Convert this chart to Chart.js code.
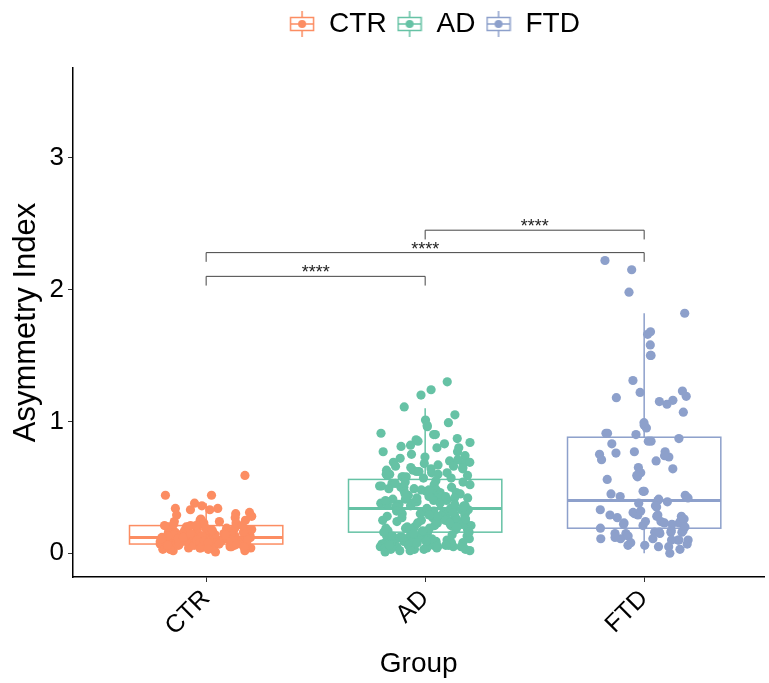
<!DOCTYPE html>
<html>
<head>
<meta charset="utf-8">
<script src="https://cdn.jsdelivr.net/npm/chart.js@4.4.1/dist/chart.umd.min.js"></script>
<style>
  html, body { margin: 0; padding: 0; background: #fff; }
  #wrap { width: 769px; height: 683px; }
</style>
</head>
<body>
<div id="wrap"><canvas id="myChart" width="769" height="683"></canvas></div>
<script>
const categories = ["CTR", "AD", "FTD"];
const colors = ["#FC8D62", "#66C2A5", "#8DA0CB"];

// values (jittered points)
const ctrValues = [0.59, 0.44, 0.44, 0.38, 0.36, 0.34, 0.34, 0.33, 0.33, 0.31, 0.30, 0.29, 0.28, 0.27, 0.26, 0.25, 0.25, 0.24,
  0.12, 0.05, 0.18, 0.09, 0.14, 0.03, 0.21, 0.11, 0.07, 0.16, 0.10, 0.04, 0.13, 0.19, 0.08, 0.06, 0.15, 0.12, 0.02, 0.22,
  0.10, 0.09, 0.17, 0.05, 0.13, 0.11, 0.07, 0.20, 0.14, 0.08, 0.03, 0.16, 0.12, 0.10, 0.06, 0.18, 0.09, 0.23, 0.11, 0.04,
  0.15, 0.13, 0.07, 0.19, 0.08, 0.12, 0.05, 0.14, 0.10, 0.21, 0.09, 0.06, 0.17, 0.11, 0.03, 0.13, 0.08, 0.24, 0.15, 0.10,
  0.07, 0.12, 0.04, 0.16, 0.09, 0.20, 0.11, 0.06, 0.14, 0.08, 0.18, 0.13, 0.02, 0.10, 0.12, 0.07, 0.15, 0.05, 0.22, 0.09,
  0.11, 0.17, 0.08, 0.13, 0.06, 0.19, 0.10, 0.14, 0.04, 0.12, 0.16, 0.09, 0.07, 0.21, 0.11, 0.05, 0.13, 0.08, 0.15, 0.10,
  0.18, 0.12, 0.06, 0.14, 0.03, 0.09, 0.11, 0.20, 0.07, 0.16, 0.13, 0.08, 0.10, 0.05, 0.12, 0.17, 0.09, 0.14, 0.06, 0.23,
  0.11, 0.04, 0.15, 0.10, 0.08, 0.13, 0.19, 0.07, 0.12, 0.01, 0.09, 0.16, 0.11, 0.06, 0.14, 0.08, 0.21, 0.10, 0.03, 0.12,
  0.15, 0.05];
const adValues = [1.30, 1.24, 1.20, 1.11, 1.05, 0.99, 1.01, 0.96, 0.97, 0.91, 0.90, 0.90, 0.86, 0.87, 0.82, 0.85, 0.81,
  0.84, 0.83, 0.80, 0.77, 0.77, 0.80, 0.74, 0.72, 0.70, 0.69, 0.68, 0.66, 0.65, 0.64, 0.63, 0.62, 0.61, 0.60, 0.60, 0.59,
  0.58, 0.58, 0.57, 0.71, 0.67, 0.63, 0.73, 0.66, 0.61, 0.59, 0.62, 0.69, 0.64, 0.57, 0.75, 0.68, 0.60, 0.65, 0.58,
  0.14, 0.55, 0.32, 0.14, 0.54, 0.31, 0.13, 0.53, 0.31, 0.13, 0.52, 0.30, 0.12, 0.52, 0.30, 0.12, 0.51, 0.29, 0.12, 0.50,
  0.29, 0.11, 0.50, 0.28, 0.11, 0.49, 0.28, 0.10, 0.48, 0.27, 0.10, 0.48, 0.27, 0.10, 0.47, 0.26, 0.09, 0.46, 0.26, 0.09,
  0.46, 0.25, 0.09, 0.45, 0.25, 0.08, 0.45, 0.24, 0.08, 0.44, 0.24, 0.08, 0.43, 0.23, 0.07, 0.43, 0.23, 0.07, 0.42, 0.22,
  0.07, 0.42, 0.22, 0.06, 0.41, 0.21, 0.06, 0.40, 0.21, 0.06, 0.40, 0.20, 0.05, 0.39, 0.20, 0.05, 0.39, 0.19, 0.05, 0.38,
  0.19, 0.04, 0.38, 0.18, 0.04, 0.37, 0.18, 0.04, 0.37, 0.17, 0.03, 0.36, 0.17, 0.03, 0.36, 0.16, 0.02, 0.35, 0.16, 0.02,
  0.35, 0.15, 0.01, 0.34, 0.15, 0.13, 0.34, 0.32, 0.11, 0.33, 0.29, 0.09, 0.33, 0.26, 0.07, 0.53, 0.23, 0.05, 0.49, 0.20,
  0.03, 0.44, 0.17, 0.12, 0.41, 0.30, 0.10, 0.38, 0.27, 0.08, 0.47, 0.24, 0.06, 0.51, 0.21, 0.04, 0.36, 0.18, 0.14, 0.43,
  0.31, 0.11, 0.39, 0.28, 0.09, 0.54, 0.25, 0.07, 0.45, 0.22, 0.05, 0.35, 0.19, 0.03, 0.40, 0.16, 0.12, 0.48, 0.29, 0.08,
  0.42, 0.26, 0.06, 0.37, 0.23, 0.02, 0.50, 0.20];
const ftdValues = [2.22, 2.15, 1.98, 1.82, 1.66, 1.68, 1.58, 1.50, 1.50, 1.31, 1.23, 1.16, 1.18, 1.13, 1.15, 1.19, 1.22,
  1.07, 0.97, 0.95, 0.99, 0.91, 0.91, 0.90, 0.87, 0.85, 0.83, 0.85, 0.73, 0.75, 0.70, 0.71, 0.77, 0.76, 0.77, 0.74, 0.64,
  0.61, 0.65, 0.58, 0.59, 0.56, 0.47, 0.47, 0.44, 0.43, 0.42, 0.40, 0.39, 0.35, 0.30, 0.29, 0.29, 0.31, 0.29, 0.28, 0.28,
  0.27, 0.25, 0.24, 0.23, 0.21, 0.23, 0.22, 0.24, 0.24, 0.22, 0.23, 0.16, 0.16, 0.15, 0.17, 0.16, 0.15, 0.17, 0.16, 0.15,
  0.11, 0.10, 0.11, 0.10, 0.12, 0.11, 0.10, 0.10, 0.06, 0.05, 0.07, 0.06, 0.05, 0.00, 0.45, 0.41, 0.38, 0.36, 0.33, 0.32,
  0.26, 0.20, 0.19, 0.13, 0.08, 0.03];
const groupValues = [ctrValues, adValues, ftdValues];

// box plot stats
const boxLow = [0.01, 0.00, 0.00];
const boxQ1 = [0.07, 0.16, 0.19];
const boxMedian = [0.12, 0.34, 0.40];
const boxQ3 = [0.21, 0.56, 0.88];
const boxHigh = [0.38, 1.10, 1.82];

const yTicks = [0, 1, 2, 3];

// significance brackets: from group, to group, height, label
const compFrom = [0, 0, 1];
const compTo = [1, 2, 2];
const compY = [2.10, 2.28, 2.45];
const compLabel = ["****", "****", "****"];

const FONT = "'Liberation Sans', Arial, Helvetica, sans-serif";
const BOX_HALF = 0.35;

// fixed spread of points around the category centre (hash of index, no randomness)
function jitter(i, k) {
  var h = Math.sin((i + 1) * 12.9898 + k * 78.233) * 43758.5453;
  var f = h - Math.floor(h);
  return (f - 0.5) * 0.42;
}

function legendIcon(color) {
  var c = document.createElement("canvas");
  c.width = 26;
  c.height = 26;
  var g = c.getContext("2d");
  g.strokeStyle = color;
  g.lineWidth = 1.5;
  g.beginPath();
  g.moveTo(13, 0);
  g.lineTo(13, 6);
  g.moveTo(13, 20);
  g.lineTo(13, 26);
  g.stroke();
  g.strokeRect(1.5, 6.5, 23, 13);
  g.beginPath();
  g.moveTo(1.5, 13);
  g.lineTo(24.5, 13);
  g.stroke();
  g.fillStyle = color;
  g.beginPath();
  g.arc(13, 13, 4, 0, Math.PI * 2);
  g.fill();
  return c;
}
const icons = colors.map(legendIcon);

const boxPlugin = {
  id: "boxes",
  beforeDatasetsDraw(chart) {
    const ctx = chart.ctx;
    const xs = chart.scales.x;
    const ys = chart.scales.y;
    ctx.save();
    for (var k = 0; k < categories.length; k++) {
      var x0 = xs.getPixelForValue(k + 1 - BOX_HALF);
      var x1 = xs.getPixelForValue(k + 1 + BOX_HALF);
      var xc = xs.getPixelForValue(k + 1);
      var yq1 = ys.getPixelForValue(boxQ1[k]);
      var yq3 = ys.getPixelForValue(boxQ3[k]);
      var ymed = ys.getPixelForValue(boxMedian[k]);
      var ylo = ys.getPixelForValue(boxLow[k]);
      var yhi = ys.getPixelForValue(boxHigh[k]);
      ctx.strokeStyle = colors[k];
      ctx.lineWidth = 1.5;
      ctx.beginPath();
      ctx.moveTo(xc, yq3);
      ctx.lineTo(xc, yhi);
      ctx.moveTo(xc, yq1);
      ctx.lineTo(xc, ylo);
      ctx.stroke();
      ctx.strokeRect(x0, yq3, x1 - x0, yq1 - yq3);
      ctx.lineWidth = 3;
      ctx.beginPath();
      ctx.moveTo(x0, ymed);
      ctx.lineTo(x1, ymed);
      ctx.stroke();
    }
    ctx.restore();
  },
  afterDatasetsDraw(chart) {
    const ctx = chart.ctx;
    const xs = chart.scales.x;
    const ys = chart.scales.y;
    ctx.save();
    ctx.strokeStyle = "#444";
    ctx.lineWidth = 1;
    ctx.fillStyle = "#222";
    ctx.font = "18px " + FONT;
    ctx.textAlign = "center";
    ctx.textBaseline = "alphabetic";
    for (var i = 0; i < compY.length; i++) {
      var xa = xs.getPixelForValue(compFrom[i] + 1);
      var xb = xs.getPixelForValue(compTo[i] + 1);
      var yb = ys.getPixelForValue(compY[i]);
      var yt = ys.getPixelForValue(compY[i] - 0.07);
      ctx.beginPath();
      ctx.moveTo(xa, yt);
      ctx.lineTo(xa, yb);
      ctx.lineTo(xb, yb);
      ctx.lineTo(xb, yt);
      ctx.stroke();
      ctx.fillText(compLabel[i], (xa + xb) / 2, yb + 2);
    }
    ctx.restore();
  }
};

const legendPlugin = {
  id: "legendSize",
  beforeInit(chart) {
    const fit = chart.legend.fit;
    chart.legend.fit = function () {
      fit.bind(chart.legend)();
      this.height = 68;
    };
  },
  afterLayout(chart) {
    chart.legend.left += 50;
    chart.legend.right += 50;
  }
};

const datasets = groupValues.map(function (vals, k) {
  return {
    label: categories[k],
    data: vals.map(function (v, i) { return { x: k + 1 + jitter(i, k), y: v }; }),
    backgroundColor: colors[k],
    borderWidth: 0,
    pointRadius: 4.6,
    pointHoverRadius: 4.6
  };
});

const config = {
  type: "scatter",
  data: { datasets: datasets },
  options: {
    responsive: false,
    animation: false,
    layout: { padding: 0 },
    plugins: {
      tooltip: { enabled: false },
      legend: {
        position: "top",
        labels: {
          usePointStyle: true,
          boxWidth: 26,
          boxHeight: 26,
          padding: 10,
          color: "#000",
          font: { family: FONT, size: 28 },
          generateLabels: function (chart) {
            return categories.map(function (c, k) {
              return { text: c, pointStyle: icons[k], datasetIndex: k, fillStyle: colors[k], strokeStyle: colors[k], lineWidth: 0, fontColor: "#000" };
            });
          }
        }
      }
    },
    scales: {
      x: {
        type: "linear",
        min: 0.392,
        max: 3.549,
        afterBuildTicks: function (s) {
          s.ticks = categories.map(function (c, i) { return { value: i + 1 }; });
        },
        afterFit: function (s) { s.height = 106; },
        ticks: {
          autoSkip: false,
          minRotation: 45,
          maxRotation: 45,
          padding: 2,
          color: "#000",
          font: { family: FONT, size: 25 },
          callback: function (v) { return categories[v - 1]; }
        },
        grid: { display: true, drawOnChartArea: false, tickLength: 5, color: "#333", lineWidth: 1 },
        border: { display: true, color: "#000", width: 1.5 },
        title: { display: true, text: "Group", color: "#000", font: { family: FONT, size: 28 }, padding: { top: 0, bottom: 2 } }
      },
      y: {
        type: "linear",
        min: -0.18,
        max: 3.68,
        afterBuildTicks: function (s) {
          s.ticks = yTicks.map(function (v) { return { value: v }; });
        },
        afterFit: function (s) { s.width = 73; },
        ticks: {
          padding: 4,
          color: "#000",
          font: { family: FONT, size: 26 },
          callback: function (v) { return String(v); }
        },
        grid: { display: true, drawOnChartArea: false, tickLength: 5, color: "#333", lineWidth: 1 },
        border: { display: true, color: "#000", width: 1.5 },
        title: { display: true, text: "Asymmetry Index", color: "#000", font: { family: FONT, size: 31 }, padding: { top: 8, bottom: 0 } }
      }
    }
  },
  plugins: [boxPlugin, legendPlugin]
};

const myChart = new Chart(document.getElementById("myChart"), config);
</script>
</body>
</html>
